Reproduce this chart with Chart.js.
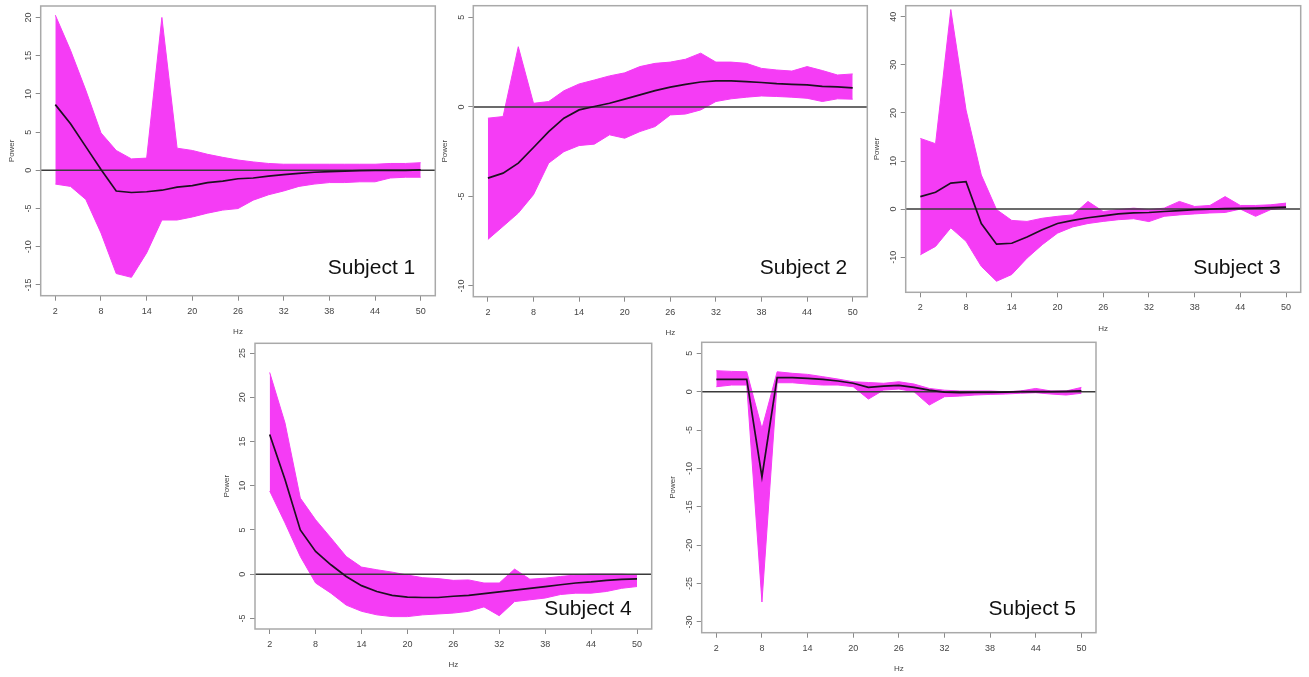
<!DOCTYPE html>
<html>
<head>
<meta charset="utf-8">
<script src="https://cdn.jsdelivr.net/npm/chart.js@4.4.1/dist/chart.umd.min.js"></script>
<style>
  html, body { margin: 0; padding: 0; background: #ffffff; }
  #wrap { position: relative; width: 1309px; height: 677px; overflow: hidden; background: #ffffff; }
  canvas { position: absolute; }
</style>
</head>
<body>
<div id="wrap"></div>
<script>
// ---------------- data ----------------
const hz = [2,4,6,8,10,12,14,16,18,20,22,24,26,28,30,32,34,36,38,40,42,44,46,48,50];
const xTickLabels = [2,8,14,20,26,32,38,44,50];
const refLevel = 0;

const s1Mean  = [8.6,6.1,3.1,0.1,-2.7,-2.9,-2.8,-2.6,-2.2,-2.0,-1.6,-1.4,-1.1,-1.0,-0.75,-0.55,-0.4,-0.25,-0.17,-0.1,-0.05,0,0,0,0.05];
const s1Upper = [20.3,15.7,10.5,4.9,2.6,1.5,1.6,20.0,2.9,2.6,2.1,1.7,1.35,1.1,0.9,0.8,0.8,0.8,0.8,0.8,0.8,0.8,0.9,0.9,1.0];
const s1Lower = [-1.8,-2.1,-3.8,-8.2,-13.5,-14.0,-10.8,-6.5,-6.5,-6.1,-5.6,-5.2,-5.0,-3.9,-3.2,-2.7,-2.1,-1.8,-1.6,-1.6,-1.5,-1.5,-1.0,-0.9,-0.9];
const s1YTicks = [-15,-10,-5,0,5,10,15,20];

const s2Mean  = [-3.98,-3.7,-3.14,-2.27,-1.38,-0.63,-0.17,0.02,0.2,0.43,0.67,0.91,1.1,1.26,1.39,1.45,1.45,1.41,1.36,1.3,1.26,1.23,1.15,1.12,1.06];
const s2Upper = [-0.63,-0.54,3.36,0.2,0.3,0.9,1.28,1.5,1.73,1.9,2.25,2.43,2.5,2.66,3.0,2.5,2.5,2.43,2.15,2.06,2.0,2.25,2.03,1.78,1.84];
const s2Lower = [-7.4,-6.67,-5.93,-4.9,-3.14,-2.5,-2.16,-2.08,-1.56,-1.75,-1.38,-1.1,-0.45,-0.4,-0.17,0.3,0.45,0.54,0.61,0.58,0.54,0.48,0.3,0.45,0.43];
const s2YTicks = [-10,-5,0,5];

const s3Mean  = [2.6,3.5,5.4,5.7,-3.0,-7.3,-7.1,-5.8,-4.3,-3.0,-2.35,-1.8,-1.4,-1.0,-0.8,-0.7,-0.5,-0.3,-0.1,0,0.1,0.15,0.2,0.3,0.4];
const s3Upper = [14.7,13.6,41.5,20.6,7.1,-0.1,-2.35,-2.56,-1.9,-1.5,-1.2,1.6,-0.5,-0.1,0.2,-0.1,0.2,1.6,0.55,0.76,2.6,0.76,0.76,0.9,1.25];
const s3Lower = [-9.5,-7.75,-3.9,-6.7,-11.9,-15.0,-13.6,-10.2,-7.4,-5.0,-3.7,-3.0,-2.56,-2.2,-2.0,-2.6,-1.5,-1.2,-1.0,-0.8,-0.7,0,-1.5,-0.1,0.2];
const s3YTicks = [-10,0,10,20,30,40];

const s4Mean  = [15.8,10.7,5.0,2.57,1.06,-0.26,-1.3,-1.96,-2.4,-2.6,-2.64,-2.64,-2.5,-2.4,-2.2,-2.0,-1.8,-1.6,-1.4,-1.2,-1.0,-0.87,-0.7,-0.6,-0.53];
const s4Upper = [22.8,17.1,8.6,6.15,4.1,2.0,0.8,0.5,0.23,-0.1,-0.4,-0.5,-0.7,-0.65,-1.0,-1.0,0.57,-0.57,-0.45,-0.26,-0.1,0,0,0,-0.1];
const s4Lower = [9.4,5.8,2.0,-1.0,-2.15,-3.5,-4.2,-4.6,-4.8,-4.8,-4.6,-4.5,-4.4,-4.2,-3.7,-4.7,-3.1,-2.9,-2.7,-2.3,-2.15,-2.15,-1.96,-1.6,-1.4];
const s4YTicks = [-5,0,5,10,15,20,25];

const s5Mean  = [1.6,1.6,1.6,-11.1,1.83,1.83,1.74,1.6,1.4,1.1,0.57,0.74,0.83,0.57,0.22,-0.04,-0.13,-0.1,-0.1,-0.05,0,0,0,0.05,0.1];
const s5Upper = [2.74,2.65,2.6,-4.8,2.6,2.4,2.26,1.96,1.65,1.3,1.2,1.1,1.3,1.0,0.43,0.2,0.1,0.1,0.1,0,0.1,0.43,0.1,0.1,0.56];
const s5Lower = [0.65,0.87,0.87,-27.4,1.17,1.17,1.0,0.87,0.87,0.65,-0.96,0.22,0.35,0,-1.74,-0.65,-0.57,-0.43,-0.35,-0.3,-0.2,-0.13,-0.3,-0.43,-0.2];
const s5YTicks = [-30,-25,-20,-15,-10,-5,0,5];

const xRange = [0.08, 51.92];

// ---------------- layout / styles ----------------
const BAND = '#F53CF5';
const FONT = '"Liberation Sans", Arial, Helvetica, sans-serif';

const panels = [
  { title:'Subject 1', mean:s1Mean, upper:s1Upper, lower:s1Lower, yTicks:s1YTicks, yMin:-16.4, yMax:21.5,
    canvas:{left:0, top:0, w:440, h:340}, box:{l:40.7, t:6, r:435.3, b:295.7}, labelY:274 },
  { title:'Subject 2', mean:s2Mean, upper:s2Upper, lower:s2Lower, yTicks:s2YTicks, yMin:-10.6, yMax:5.65,
    canvas:{left:436, top:0, w:434, h:340}, box:{l:473.3, t:5.7, r:867.3, b:296.7}, labelY:274 },
  { title:'Subject 3', mean:s3Mean, upper:s3Upper, lower:s3Lower, yTicks:s3YTicks, yMin:-17.3, yMax:42.3,
    canvas:{left:870, top:0, w:439, h:340}, box:{l:905.7, t:5.7, r:1300.7, b:292.3}, labelY:274 },
  { title:'Subject 4', mean:s4Mean, upper:s4Upper, lower:s4Lower, yTicks:s4YTicks, yMin:-6.2, yMax:26.1,
    canvas:{left:205, top:335, w:455, h:342}, box:{l:255, t:343.3, r:651.7, b:629}, labelY:615 },
  { title:'Subject 5', mean:s5Mean, upper:s5Upper, lower:s5Lower, yTicks:s5YTicks, yMin:-31.4, yMax:6.44,
    canvas:{left:660, top:335, w:449, h:342}, box:{l:701.7, t:342.3, r:1096, b:632.7}, labelY:615 }
];

const rPlotPlugin = {
  id: 'rPlot',
  afterDraw(chart) {
    const p = chart.options.plugins.rPlot;
    const {ctx, chartArea} = chart;
    const {left, top, right, bottom} = chartArea;
    const xs = chart.scales.x, ys = chart.scales.y;
    ctx.save();
    // box
    ctx.strokeStyle = '#a9a9a9';
    ctx.lineWidth = 1.5;
    ctx.strokeRect(left, top, right - left, bottom - top);
    // x tick labels
    ctx.fillStyle = '#444';
    ctx.font = '9px ' + FONT;
    ctx.textAlign = 'center';
    ctx.textBaseline = 'middle';
    xTickLabels.forEach(v => ctx.fillText(String(v), xs.getPixelForValue(v), bottom + 15.5));
    // y tick labels (rotated, R las=0 style)
    p.yTicks.forEach(v => {
      ctx.save();
      ctx.translate(left - 12, ys.getPixelForValue(v));
      ctx.rotate(-Math.PI / 2);
      ctx.fillText(String(v), 0, 0);
      ctx.restore();
    });
    // axis titles
    ctx.font = '8px ' + FONT;
    ctx.fillText('Hz', (left + right) / 2, bottom + 36);
    ctx.save();
    ctx.translate(left - 28.5, (top + bottom) / 2);
    ctx.rotate(-Math.PI / 2);
    ctx.fillText('Power', 0, 0);
    ctx.restore();
    // subject label
    ctx.fillStyle = '#111';
    ctx.font = '21px ' + FONT;
    ctx.textAlign = 'right';
    ctx.textBaseline = 'alphabetic';
    ctx.fillText(p.title, right - 20, p.labelY);
    ctx.restore();
  }
};

const wrap = document.getElementById('wrap');

panels.forEach(pn => {
  const cv = document.createElement('canvas');
  cv.width = pn.canvas.w; cv.height = pn.canvas.h;
  cv.style.left = pn.canvas.left + 'px';
  cv.style.top = pn.canvas.top + 'px';
  cv.style.width = pn.canvas.w + 'px';
  cv.style.height = pn.canvas.h + 'px';
  wrap.appendChild(cv);

  const yAxisW = pn.box.l - pn.canvas.left;
  const xAxisH = pn.canvas.top + pn.canvas.h - pn.box.b;
  const padTop = pn.box.t - pn.canvas.top;
  const padRight = pn.canvas.left + pn.canvas.w - pn.box.r;

  const pts = arr => hz.map((h, i) => ({x: h, y: arr[i]}));

  new Chart(cv.getContext('2d'), {
    type: 'line',
    data: {
      datasets: [
        { label: 'mean', data: pts(pn.mean), borderColor: '#1e1020', borderWidth: 1.7,
          pointRadius: 0, fill: false, tension: 0 },
        { label: 'zero', data: [{x: xRange[0], y: refLevel}, {x: xRange[1], y: refLevel}],
          borderColor: '#3a3a3a', borderWidth: 1.5, pointRadius: 0, fill: false },
        { label: 'upper', data: pts(pn.upper), borderColor: BAND, borderWidth: 1,
          backgroundColor: BAND, pointRadius: 0, fill: '+1', tension: 0 },
        { label: 'lower', data: pts(pn.lower), borderColor: BAND, borderWidth: 1,
          pointRadius: 0, fill: false, tension: 0 }
      ]
    },
    options: {
      responsive: false,
      animation: false,
      events: [],
      layout: { autoPadding: false, padding: { left: 0, top: padTop, right: padRight, bottom: 0 } },
      plugins: {
        legend: { display: false },
        tooltip: { enabled: false },
        rPlot: { title: pn.title, yTicks: pn.yTicks, labelY: pn.labelY - pn.canvas.top }
      },
      scales: {
        x: {
          type: 'linear', min: xRange[0], max: xRange[1],
          afterBuildTicks: s => { s.ticks = xTickLabels.map(v => ({value: v})); },
          afterFit: s => { s.height = xAxisH; },
          ticks: { display: false },
          grid: { display: true, drawOnChartArea: false, drawTicks: true, tickLength: 5, color: '#8a8a8a', lineWidth: 1 },
          border: { display: false }
        },
        y: {
          type: 'linear', min: pn.yMin, max: pn.yMax,
          afterBuildTicks: s => { s.ticks = pn.yTicks.map(v => ({value: v})); },
          afterFit: s => { s.width = yAxisW; },
          ticks: { display: false },
          grid: { display: true, drawOnChartArea: false, drawTicks: true, tickLength: 5, color: '#8a8a8a', lineWidth: 1 },
          border: { display: false }
        }
      }
    },
    plugins: [rPlotPlugin]
  });
});
</script>
</body>
</html>
